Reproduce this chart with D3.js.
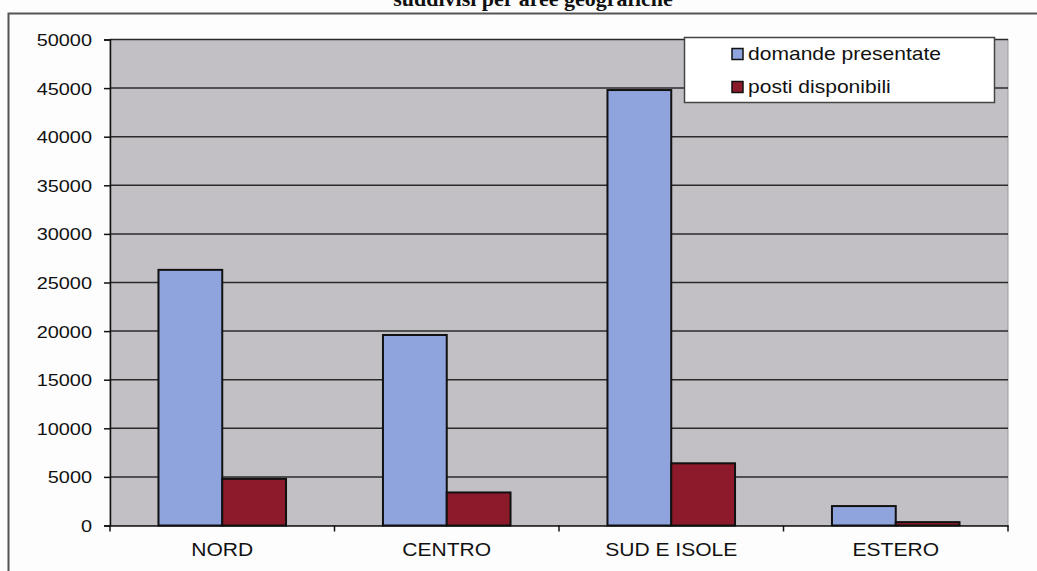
<!DOCTYPE html>
<html><head><meta charset="utf-8">
<script src="https://cdn.jsdelivr.net/npm/d3@7"></script>
<style>body{margin:0;background:#fdfdfd;}svg{display:block;}</style>
</head><body>
<script>
const categories = ["NORD", "CENTRO", "SUD E ISOLE", "ESTERO"];
const seriesNames = ["domande presentate", "posti disponibili"];
const domande = [26300, 19600, 44800, 2000];
const posti = [4800, 3400, 6400, 350];
const yTicks = [0, 5000, 10000, 15000, 20000, 25000, 30000, 35000, 40000, 45000, 50000];
const colors = ["#8fa3dc", "#8c1a2a"];
const title = "suddivisi per aree geografiche";

(function(){
const W = 1037, H = 571;
const svg = d3.select("body").append("svg").attr("width", W).attr("height", H);
const font = "'Liberation Sans', Arial, sans-serif";
const sx = 1.17;

// outer frame
svg.append("rect").attr("x", 8.5).attr("y", 13.5).attr("width", 1100).attr("height", 600)
  .attr("fill", "none").attr("stroke", "#555").attr("stroke-width", 2);

// title
svg.append("text").attr("x", 533).attr("y", 6).attr("text-anchor", "middle")
  .attr("font-family", "'Liberation Serif', 'Times New Roman', serif").attr("font-weight", "bold")
  .attr("font-size", 22).attr("fill", "#111").text(title);

const pLeft = 110, pRight = 1008, pTop = 39.5, pBottom = 525.5;
const x0 = d3.scaleBand().domain(categories).range([pLeft, pRight]).paddingInner(0).paddingOuter(0);
const x1 = d3.scaleBand().domain(seriesNames).range([0, x0.bandwidth()]).paddingInner(0).paddingOuter(0.76);
const y = d3.scaleLinear().domain([0, 50000]).range([pBottom, pTop]);

// plot background
svg.append("rect").attr("x", pLeft).attr("y", pTop).attr("width", pRight - pLeft).attr("height", pBottom - pTop)
  .attr("fill", "#c2c0c5").attr("stroke", "#9a9a9e").attr("stroke-width", 1);

// gridlines
svg.append("g").selectAll("line").data(yTicks.filter(d => d > 0)).join("line")
  .attr("x1", pLeft).attr("x2", pRight).attr("y1", d => y(d)).attr("y2", d => y(d))
  .attr("stroke", "#2a2a2a").attr("stroke-width", 1.5);

// y axis
const yAxis = d3.axisLeft(y).tickValues(yTicks).tickSize(6).tickFormat(d3.format("d"));
const gy = svg.append("g").attr("transform", `translate(${pLeft},0)`).call(yAxis);
gy.select(".domain").attr("stroke", "#111").attr("stroke-width", 1.5);
gy.selectAll(".tick line").attr("stroke", "#111").attr("stroke-width", 1.5);
gy.selectAll(".tick text").attr("font-family", font).attr("font-size", 17).attr("fill", "#111")
  .attr("x", 0).attr("dy", "0.35em")
  .attr("transform", `translate(-18,0) scale(${sx},1)`);

// bars
const data = categories.map((c, i) => ({cat: c, vals: [domande[i], posti[i]]}));
const groups = svg.append("g").selectAll("g").data(data).join("g")
  .attr("transform", d => `translate(${x0(d.cat)},0)`);
groups.selectAll("rect").data(d => d.vals.map((v, j) => ({s: seriesNames[j], v, j}))).join("rect")
  .attr("x", d => x1(d.s)).attr("width", x1.bandwidth())
  .attr("y", d => y(d.v)).attr("height", d => y(0) - y(d.v))
  .attr("fill", d => colors[d.j]).attr("stroke", "#111").attr("stroke-width", 2);

// x axis
const xAxis = d3.axisBottom(x0).tickSize(0).tickPadding(18);
const gx = svg.append("g").attr("transform", `translate(0,${pBottom})`).call(xAxis);
gx.select(".domain").attr("stroke", "#111").attr("stroke-width", 1.5);
gx.selectAll(".tick text").attr("font-family", font).attr("font-size", 18).attr("fill", "#111")
  .attr("transform", `scale(${sx},1)`);
// boundary ticks
const bounds = categories.map(c => x0(c)).concat([pRight]);
svg.append("g").selectAll("line").data(bounds).join("line")
  .attr("x1", d => d).attr("x2", d => d).attr("y1", pBottom).attr("y2", pBottom + 6)
  .attr("stroke", "#111").attr("stroke-width", 1.5);

// legend
const lg = svg.append("g");
lg.append("rect").attr("x", 684.5).attr("y", 37.5).attr("width", 310).attr("height", 65)
  .attr("fill", "#fff").attr("stroke", "#444").attr("stroke-width", 1.5);
seriesNames.forEach((s, i) => {
  const yy = 54 + i * 33;
  lg.append("rect").attr("x", 732).attr("y", yy - 5.5).attr("width", 11).attr("height", 11)
    .attr("fill", colors[i]).attr("stroke", "#111").attr("stroke-width", 1.5);
  lg.append("text").attr("x", 0).attr("y", 0).attr("dy", "0.35em")
    .attr("transform", `translate(748,${yy}) scale(${sx},1)`)
    .attr("font-family", font).attr("font-size", 18).attr("fill", "#111").text(s);
});
})();
</script>
</body></html>
